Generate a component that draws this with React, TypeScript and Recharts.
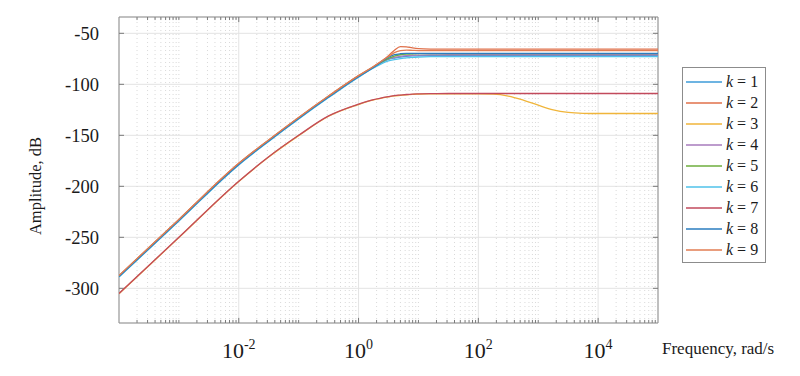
import React from 'react';
import {
  LineChart,
  Line,
  XAxis,
  YAxis,
  CartesianGrid,
  ReferenceLine,
  ReferenceArea,
  Legend,
} from 'recharts';

const freqs = [
  0.0001, 0.001, 0.01, 0.0316, 0.1, 0.316, 1, 1.78, 3.16, 3.98, 5.01, 6.31, 7.94,
  10, 15.8, 31.6, 100, 178, 316, 562, 1000, 1778, 3162, 5623, 10000, 100000,
];

// Amplitude (dB) for each k
const k1 = [-288.5, -233.5, -178.5, -155.5, -133.5, -112.5, -92.5, -83.5, -75.5, -74.2, -73.3, -72.6, -72.2, -72, -71.7, -71.6, -71.5, -71.5, -71.5, -71.5, -71.5, -71.5, -71.5, -71.5, -71.5, -71.5];
const k2 = [-287.5, -232.5, -177.5, -154.5, -132.5, -111.5, -91.5, -82.5, -72, -66.5, -63, -63.3, -64.3, -65, -65.4, -65.5, -65.5, -65.5, -65.5, -65.5, -65.5, -65.5, -65.5, -65.5, -65.5, -65.5];
const k3 = [-305.3, -250.3, -195.3, -171.3, -150.3, -131.3, -119.8, -115.3, -112.3, -111.3, -110.8, -110.3, -109.9, -109.6, -109.4, -109.3, -109.3, -109.6, -111.5, -115.5, -120.5, -125, -127.5, -128.4, -128.6, -128.6];
const k4 = [-288, -233, -178, -155, -133, -112, -92, -83, -75, -73.5, -72.5, -71.9, -71.5, -71.3, -71.1, -71, -71, -71, -71, -71, -71, -71, -71, -71, -71, -71];
const k5 = [-288, -233, -178, -155, -133, -112, -92, -83, -74.5, -72.3, -71, -70.4, -70.1, -70, -70, -70, -70, -70, -70, -70, -70, -70, -70, -70, -70, -70];
const k6 = [-289, -234, -179, -156, -134, -113, -93, -84, -77, -75.8, -74.8, -74, -73.5, -73.2, -72.9, -72.8, -72.8, -72.8, -72.8, -72.8, -72.8, -72.8, -72.8, -72.8, -72.8, -72.8];
const k7 = [-305, -250, -195, -171, -150, -131, -119.5, -115, -112, -111, -110.5, -110, -109.6, -109.4, -109.1, -109, -109, -109, -109, -109, -109, -109, -109, -109, -109, -109];
const k8 = [-288.5, -233.5, -178.5, -155.5, -133.5, -112.5, -92.5, -83.5, -73.5, -71, -70, -69.6, -69.6, -69.7, -69.7, -69.7, -69.7, -69.7, -69.7, -69.7, -69.7, -69.7, -69.7, -69.7, -69.7, -69.7];
const k9 = [-287.5, -232.5, -177.5, -154.5, -132.5, -111.5, -91.5, -82.5, -72.8, -69, -67, -66.5, -66.7, -66.9, -67, -67, -67, -67, -67, -67, -67, -67, -67, -67, -67, -67];

const seriesKeys = ['k1', 'k2', 'k3', 'k4', 'k5', 'k6', 'k7', 'k8', 'k9'];
const seriesNums = ['1', '2', '3', '4', '5', '6', '7', '8', '9'];
const seriesValues = [k1, k2, k3, k4, k5, k6, k7, k8, k9];
const seriesColors = [
  '#3d9bd8', '#e0704a', '#f0b53a', '#a77bbd', '#6eae3c',
  '#4fc2ea', '#c24a5c', '#2a7dbf', '#e27d52',
];

const xTicks = [0.01, 1, 100, 10000];
const yTicks = [-300, -250, -200, -150, -100, -50];
const xDomain = [0.0001, 100000];
const yDomain = [-334, -34];

const data = freqs.map((f, i) => {
  const row: Record<string, number> = { f };
  seriesKeys.forEach((k, j) => {
    row[k] = seriesValues[j][i];
  });
  return row;
});

// minor log positions (2..9 x 10^d) plus non-labelled decades
const minorFreqs: number[] = [];
for (let d = -4; d <= 4; d++) {
  const base = Math.pow(10, d);
  if (d % 2 !== 0) minorFreqs.push(base);
  for (let m = 2; m <= 9; m++) minorFreqs.push(m * base);
}

const SERIF = 'Liberation Serif';
const TXT = '#1a1a1a';

const XTick = (props: any) => {
  const { x, y, payload } = props;
  const exp = Math.round(Math.log10(payload.value));
  return (
    <text x={x} y={y + 35} textAnchor="middle" style={{ fontFamily: SERIF }} fontSize={22} fill={TXT}>
      10
      <tspan dy={-9} fontSize={14}>
        {exp}
      </tspan>
    </text>
  );
};

const XLabel = (props: any) => {
  const vb = props.viewBox;
  return (
    <text x={vb.x + vb.width + 4} y={vb.y + 31} style={{ fontFamily: SERIF }} fontSize={17} fill={TXT}>
      Frequency, rad/s
    </text>
  );
};

const YLabel = (props: any) => {
  const vb = props.viewBox;
  const cx = 35;
  const cy = vb.y + 169;
  return (
    <text
      x={cx}
      y={cy}
      transform={`rotate(-90 ${cx} ${cy})`}
      textAnchor="middle"
      dominantBaseline="central"
      style={{ fontFamily: SERIF }}
      fontSize={16.5}
      fill={TXT}
    >
      Amplitude, dB
    </text>
  );
};

const LegendBox = () => (
  <div
    style={{
      border: '1px solid #8c8c8c',
      background: '#fff',
      width: 84,
      boxSizing: 'border-box',
      padding: '3px 0 1px 0',
      fontFamily: SERIF,
      fontSize: 16,
      color: TXT,
      lineHeight: 1,
    }}
  >
    {seriesKeys.map((k, i) => (
      <div key={k} style={{ display: 'flex', alignItems: 'center', height: 21.1 }}>
        <svg width={40} height={4} style={{ display: 'block' }}>
          <line x1={3} x2={39} y1={2} y2={2} stroke={seriesColors[i]} strokeWidth={1.3} />
        </svg>
        <span style={{ marginLeft: 3, whiteSpace: 'nowrap' }}>
          <i>k</i> = {seriesNums[i]}
        </span>
      </div>
    ))}
  </div>
);

const TICK = '#7a7a7a';
const yTickLen = 1.212; // log factor for ~5px
const App = () => {
  return (
    <div style={{ position: 'absolute', left: 0, top: 0, fontFamily: SERIF }}>
      <LineChart
        width={800}
        height={376}
        data={data}
        margin={{ top: 17, right: 142, bottom: 0, left: 0 }}
        style={{ fontFamily: SERIF }}
      >
        <CartesianGrid stroke="#e3e3e3" strokeWidth={1} />
        {minorFreqs.map((f) => (
          <ReferenceLine
            key={'mg' + f}
            x={f}
            stroke="#d9d9d9"
            strokeDasharray="1 3"
            strokeWidth={1}
          />
        ))}
        <XAxis
          dataKey="f"
          type="number"
          scale="log"
          domain={xDomain}
          ticks={xTicks}
          allowDataOverflow
          axisLine={false}
          tickLine={false}
          tickSize={0}
          tickMargin={0}
          height={53}
          tick={<XTick />}
          label={{ content: <XLabel /> }}
        />
        <YAxis
          type="number"
          domain={yDomain}
          ticks={yTicks}
          allowDataOverflow
          axisLine={false}
          tickLine={false}
          tickSize={0}
          tickMargin={20}
          width={119}
          tick={{ fontSize: 18.5, fill: TXT, style: { fontFamily: SERIF } }}
          label={{ content: <YLabel /> }}
        />
        {/* inner tick marks */}
        {minorFreqs.map((f) => (
          <ReferenceLine
            key={'tb' + f}
            segment={[{ x: f, y: yDomain[0] }, { x: f, y: yDomain[0] + 3 }]}
            stroke={TICK}
          />
        ))}
        {minorFreqs.map((f) => (
          <ReferenceLine
            key={'tt' + f}
            segment={[{ x: f, y: yDomain[1] }, { x: f, y: yDomain[1] - 3 }]}
            stroke={TICK}
          />
        ))}
        {xTicks.map((f) => (
          <ReferenceLine
            key={'Mb' + f}
            segment={[{ x: f, y: yDomain[0] }, { x: f, y: yDomain[0] + 5 }]}
            stroke={TICK}
          />
        ))}
        {xTicks.map((f) => (
          <ReferenceLine
            key={'Mt' + f}
            segment={[{ x: f, y: yDomain[1] }, { x: f, y: yDomain[1] - 5 }]}
            stroke={TICK}
          />
        ))}
        {yTicks.map((v) => (
          <ReferenceLine
            key={'yl' + v}
            segment={[{ x: xDomain[0], y: v }, { x: xDomain[0] * yTickLen, y: v }]}
            stroke={TICK}
          />
        ))}
        {yTicks.map((v) => (
          <ReferenceLine
            key={'yr' + v}
            segment={[{ x: xDomain[1] / yTickLen, y: v }, { x: xDomain[1], y: v }]}
            stroke={TICK}
          />
        ))}
        {seriesKeys.map((k, i) => (
          <Line
            key={k}
            dataKey={k}
            name={'k = ' + seriesNums[i]}
            type="monotone"
            stroke={seriesColors[i]}
            strokeWidth={1.3}
            dot={false}
            activeDot={false}
            isAnimationActive={false}
          />
        ))}
        <ReferenceArea
          x1={xDomain[0]}
          x2={xDomain[1]}
          y1={yDomain[0]}
          y2={yDomain[1]}
          fill="none"
          fillOpacity={0}
          stroke="#8f8f8f"
          strokeWidth={1}
          ifOverflow="visible"
        />
        <Legend
          layout="vertical"
          align="center"
          verticalAlign="middle"
          content={<LegendBox />}
          wrapperStyle={{ left: 682, top: 67, width: 84 }}
        />
      </LineChart>
    </div>
  );
};

export default App;
